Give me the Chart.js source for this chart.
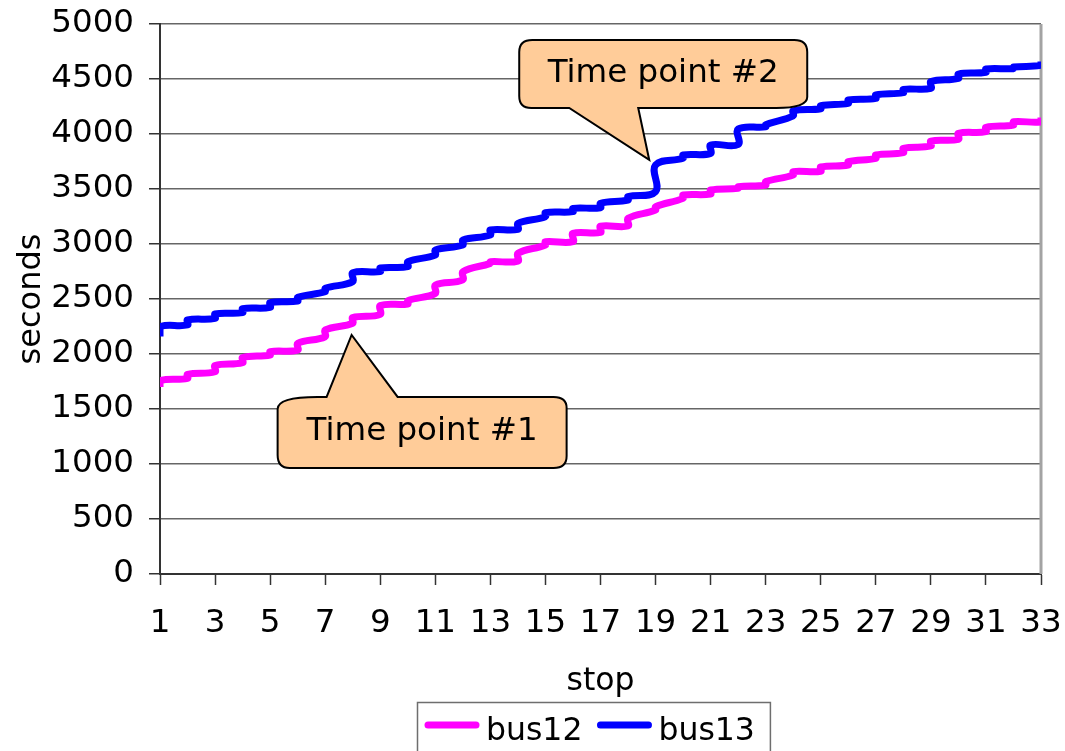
<!DOCTYPE html>
<html>
<head>
<meta charset="utf-8">
<title>bus12 / bus13 schedule</title>
<script src="https://cdn.jsdelivr.net/npm/chart.js@4/dist/chart.umd.min.js"></script>
<style>
  html, body { margin: 0; padding: 0; background: #ffffff; }
  #wrap { width: 1065px; height: 751px; }
</style>
</head>
<body>
<div id="wrap"><canvas id="c" width="1065" height="751"></canvas></div>
<script>
// Stops along the route
const stops = [1, 2, 3, 4, 5, 6, 7, 8, 9, 10, 11, 12, 13, 14, 15, 16, 17,
               18, 19, 20, 21, 22, 23, 24, 25, 26, 27, 28, 29, 30, 31, 32, 33];

// bus12: arrival and departure time at each stop (seconds)
const bus12Arrive = [1700, 1779, 1839, 1921, 1991, 2036, 2157, 2279, 2360, 2455, 2551,
                     2673, 2824, 2845, 2991, 3021, 3105, 3164, 3309, 3415, 3455, 3506,
                     3536, 3627, 3660, 3718, 3779, 3830, 3891, 3952, 4021, 4082, 4110];
const bus12Depart = [1758, 1815, 1895, 1968, 2021, 2097, 2218, 2330, 2440, 2485, 2627,
                     2748, 2839, 2915, 3021, 3097, 3162, 3233, 3339, 3445, 3491, 3521,
                     3567, 3658, 3700, 3748, 3809, 3870, 3936, 4006, 4061, 4112, 4150];

// bus13: arrival and departure time at each stop (seconds)
const bus13Arrive = [2160, 2264, 2324, 2376, 2424, 2482, 2567, 2658, 2750, 2794, 2900,
                     2991, 3082, 3133, 3248, 3294, 3330, 3400, 3476, 3779, 3824, 3905,
                     4065, 4165, 4230, 4279, 4324, 4376, 4415, 4506, 4561, 4594, 4625];
const bus13Depart = [2248, 2309, 2364, 2412, 2467, 2515, 2597, 2739, 2782, 2839, 2945,
                     3036, 3127, 3188, 3285, 3324, 3370, 3430, 3718, 3809, 3900, 4045,
                     4085, 4210, 4258, 4309, 4355, 4406, 4476, 4545, 4591, 4609, 4660];

// Axis ranges and labels
const yTicks = { min: 0, max: 5000, step: 500 };
const xTicks = { min: 1, max: 33, step: 2 };
const xTitle = 'stop';
const yTitle = 'seconds';
const seriesNames = ['bus12', 'bus13'];

// Callout notes: text and the (stop, seconds) point the pointer touches
const noteTexts = ['Time point #1', 'Time point #2'];
const noteStops = [7.96, 18.77];
const noteSeconds = [2173, 3764];

const FONT = "'DejaVu Sans', Verdana, sans-serif";

function toPoints(arrive, depart) {
  const pts = [];
  stops.forEach((s, i) => {
    pts.push({ x: s, y: arrive[i] });
    pts.push({ x: s, y: depart[i] });
  });
  return pts;
}

// Callout geometry (pixel offsets from the pointer tip)
const noteShapes = [
  { side: 'top', l: -74, r: 215, t: 62, b: 133, ta: -25, tb: 46,
    tl: [40, 12], tr: [13, 11], br: [13, 12], bl: [12, 13] },
  { side: 'bottom', l: -130, r: 158, t: -120, b: -52, ta: -80, tb: -11,
    tl: [13, 12], tr: [13, 12], br: [31, 11], bl: [12, 12] }
];

function calloutPath(ctx, x0, y0, s) {
  const L = x0 + s.l, R = x0 + s.r, T = y0 + s.t, B = y0 + s.b;
  ctx.beginPath();
  ctx.moveTo(L + s.tl[0], T);
  if (s.side === 'top') {
    ctx.lineTo(x0 + s.ta, T);
    ctx.lineTo(x0, y0);
    ctx.lineTo(x0 + s.tb, T);
  }
  ctx.lineTo(R - s.tr[0], T);
  ctx.quadraticCurveTo(R, T, R, T + s.tr[1]);
  ctx.lineTo(R, B - s.br[1]);
  ctx.quadraticCurveTo(R, B, R - s.br[0], B);
  if (s.side === 'bottom') {
    ctx.lineTo(x0 + s.tb, B);
    ctx.lineTo(x0, y0);
    ctx.lineTo(x0 + s.ta, B);
  }
  ctx.lineTo(L + s.bl[0], B);
  ctx.quadraticCurveTo(L, B, L, B - s.bl[1]);
  ctx.lineTo(L, T + s.tl[1]);
  ctx.quadraticCurveTo(L, T, L + s.tl[0], T);
  ctx.closePath();
  return { cx: (L + R) / 2, cy: (T + B) / 2 };
}

// Right edge of the plot frame
const frameEdge = {
  id: 'frameEdge',
  beforeDatasetsDraw(chart) {
    const { ctx, chartArea: a } = chart;
    ctx.save();
    ctx.strokeStyle = '#a3a3a3';
    ctx.lineWidth = 3;
    ctx.beginPath();
    ctx.moveTo(a.right, a.top);
    ctx.lineTo(a.right, a.bottom);
    ctx.stroke();
    ctx.restore();
  }
};

// Speech-bubble notes drawn over the lines
const notes = {
  id: 'notes',
  afterDatasetsDraw(chart) {
    const { ctx, scales } = chart;
    ctx.save();
    noteTexts.forEach((txt, i) => {
      const x0 = scales.x.getPixelForValue(noteStops[i]);
      const y0 = scales.y.getPixelForValue(noteSeconds[i]);
      const c = calloutPath(ctx, x0, y0, noteShapes[i]);
      ctx.fillStyle = '#ffcc99';
      ctx.fill();
      ctx.lineWidth = 2;
      ctx.strokeStyle = '#000000';
      ctx.lineJoin = 'miter';
      ctx.stroke();
      ctx.fillStyle = '#000000';
      ctx.font = '32.5px ' + FONT;
      ctx.textAlign = 'center';
      ctx.textBaseline = 'alphabetic';
      ctx.fillText(txt, c.cx, c.cy + 8);
    });
    ctx.restore();
  }
};

// Boxed legend under the axis title
const boxedLegend = {
  id: 'boxedLegend',
  afterDraw(chart) {
    const { ctx, chartArea: a } = chart;
    const ds = chart.data.datasets;
    ctx.save();
    ctx.font = '31.5px ' + FONT;
    const lineLen = 54, gapText = 7, gapItem = 15, padL = 8;
    const widths = ds.map(d => ctx.measureText(d.label).width);
    let total = padL;
    widths.forEach(w => { total += lineLen + gapText + w + gapItem; });
    const boxL = Math.round((a.left + a.right) / 2 - 7 - total / 2);
    const boxT = 702;
    ctx.strokeStyle = '#6e6e6e';
    ctx.lineWidth = 1.5;
    ctx.strokeRect(boxL + 0.5, boxT + 0.5, total, 70);
    let x = boxL + padL;
    const yLine = 725, yText = 740;
    ds.forEach((d, i) => {
      ctx.strokeStyle = d.borderColor;
      ctx.lineWidth = 7;
      ctx.lineCap = 'round';
      ctx.beginPath();
      ctx.moveTo(x + 3, yLine);
      ctx.lineTo(x + lineLen - 3, yLine);
      ctx.stroke();
      x += lineLen + gapText;
      ctx.fillStyle = '#000000';
      ctx.textAlign = 'left';
      ctx.textBaseline = 'alphabetic';
      ctx.fillText(d.label, x, yText);
      x += widths[i] + gapItem;
    });
    ctx.restore();
  }
};

// Keep the plot box fixed: labels may overhang into the outer margins
function noOverhang(scale) {
  scale.paddingTop = 0;
  scale.paddingBottom = 0;
  scale.paddingLeft = 0;
  scale.paddingRight = 0;
}

const lineStyle = {
  borderWidth: 7,
  pointRadius: 0,
  pointHoverRadius: 0,
  tension: 0.4,
  fill: false,
  borderJoinStyle: 'round',
  borderCapStyle: 'butt'
};

new Chart(document.getElementById('c'), {
  type: 'line',
  data: {
    datasets: [
      Object.assign({ label: seriesNames[0], data: toPoints(bus12Arrive, bus12Depart),
        borderColor: '#ff00ff', backgroundColor: '#ff00ff' }, lineStyle),
      Object.assign({ label: seriesNames[1], data: toPoints(bus13Arrive, bus13Depart),
        borderColor: '#0000ff', backgroundColor: '#0000ff' }, lineStyle)
    ]
  },
  options: {
    responsive: false,
    animation: false,
    devicePixelRatio: 1,
    layout: { padding: { top: 24, right: 24, bottom: 49, left: 0 } },
    plugins: {
      legend: { display: false },
      tooltip: { enabled: false }
    },
    scales: {
      x: {
        type: 'linear',
        min: xTicks.min,
        max: xTicks.max,
        afterFit(scale) { scale.height = 128; noOverhang(scale); },
        ticks: {
          stepSize: xTicks.step,
          color: '#000000',
          padding: 19,
          maxRotation: 0,
          font: { family: FONT, size: 32.5 }
        },
        grid: {
          drawOnChartArea: false,
          drawTicks: true,
          tickLength: 11,
          tickColor: '#333333',
          tickWidth: 1.5
        },
        border: { color: '#333333', width: 2 },
        title: {
          display: true,
          text: xTitle,
          color: '#000000',
          font: { family: FONT, size: 31.5 },
          padding: { top: 0, bottom: 1 }
        }
      },
      y: {
        min: yTicks.min,
        max: yTicks.max,
        afterFit(scale) { scale.width = 160; noOverhang(scale); },
        ticks: {
          stepSize: yTicks.step,
          color: '#000000',
          padding: 15,
          font: { family: FONT, size: 32.5 },
          callback: (v) => String(v)
        },
        grid: {
          color: '#666666',
          lineWidth: 1.5,
          drawTicks: true,
          tickLength: 11,
          tickColor: '#333333',
          tickWidth: 1.5
        },
        border: { color: '#333333', width: 2 },
        title: {
          display: true,
          text: yTitle,
          color: '#000000',
          font: { family: FONT, size: 32 },
          padding: { top: 12, bottom: 0 }
        }
      }
    }
  },
  plugins: [frameEdge, notes, boxedLegend]
});
</script>
</body>
</html>
